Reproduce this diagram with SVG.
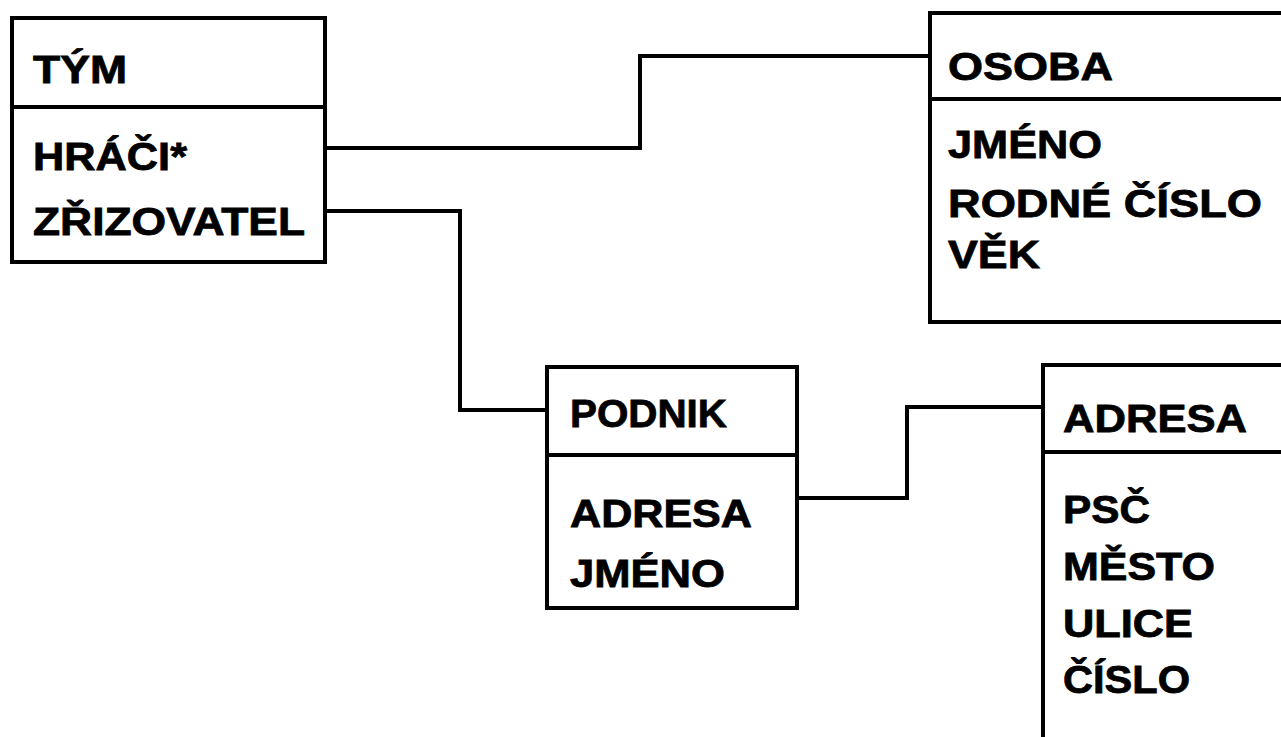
<svg xmlns="http://www.w3.org/2000/svg" width="1281" height="737" viewBox="0 0 1281 737">
<style>
.box{fill:#fff;stroke:#000;stroke-width:4}
.div{stroke:#000;stroke-width:4}
.conn{fill:none;stroke:#000;stroke-width:4}
text{font-family:"Liberation Sans",Arial,sans-serif;font-weight:bold;font-size:39px;fill:#000;stroke:#000;stroke-width:0.8}
</style>
<rect width="1281" height="737" fill="#fff"/>
<g id="connectors">
<polyline class="conn" points="325,148 640,148 640,56 930,56"/>
<polyline class="conn" points="325,211 460,211 460,410 547,410"/>
<polyline class="conn" points="797,498 907,498 907,407 1043,407"/>
</g>
<g id="tym">
<rect class="box" x="12" y="18" width="313" height="244"/>
<line class="div" x1="12" y1="107" x2="325" y2="107"/>
<text x="33" y="83" textLength="94" lengthAdjust="spacingAndGlyphs">TÝM</text>
<text x="33" y="170" textLength="154" lengthAdjust="spacingAndGlyphs">HRÁČI*</text>
<text x="33" y="235" textLength="272" lengthAdjust="spacingAndGlyphs">ZŘIZOVATEL</text>
</g>
<g id="osoba">
<rect class="box" x="930" y="13" width="360" height="309"/>
<line class="div" x1="930" y1="99" x2="1290" y2="99"/>
<text x="948" y="80" textLength="165" lengthAdjust="spacingAndGlyphs">OSOBA</text>
<text x="948" y="158" textLength="154" lengthAdjust="spacingAndGlyphs">JMÉNO</text>
<text x="948" y="217" textLength="314" lengthAdjust="spacingAndGlyphs">RODNÉ ČÍSLO</text>
<text x="948" y="268" textLength="92" lengthAdjust="spacingAndGlyphs">VĚK</text>
</g>
<g id="podnik">
<rect class="box" x="547" y="367" width="250" height="241"/>
<line class="div" x1="547" y1="455" x2="797" y2="455"/>
<text x="570" y="427" textLength="157" lengthAdjust="spacingAndGlyphs">PODNIK</text>
<text x="570" y="527" textLength="182" lengthAdjust="spacingAndGlyphs">ADRESA</text>
<text x="570" y="587" textLength="155" lengthAdjust="spacingAndGlyphs">JMÉNO</text>
</g>
<g id="adresa">
<rect class="box" x="1043" y="365" width="250" height="400"/>
<line class="div" x1="1043" y1="452" x2="1293" y2="452"/>
<text x="1063" y="432" textLength="184" lengthAdjust="spacingAndGlyphs">ADRESA</text>
<text x="1063" y="523" textLength="87" lengthAdjust="spacingAndGlyphs">PSČ</text>
<text x="1063" y="580" textLength="152" lengthAdjust="spacingAndGlyphs">MĚSTO</text>
<text x="1063" y="637" textLength="130" lengthAdjust="spacingAndGlyphs">ULICE</text>
<text x="1063" y="693" textLength="127" lengthAdjust="spacingAndGlyphs">ČÍSLO</text>
</g>
</svg>
